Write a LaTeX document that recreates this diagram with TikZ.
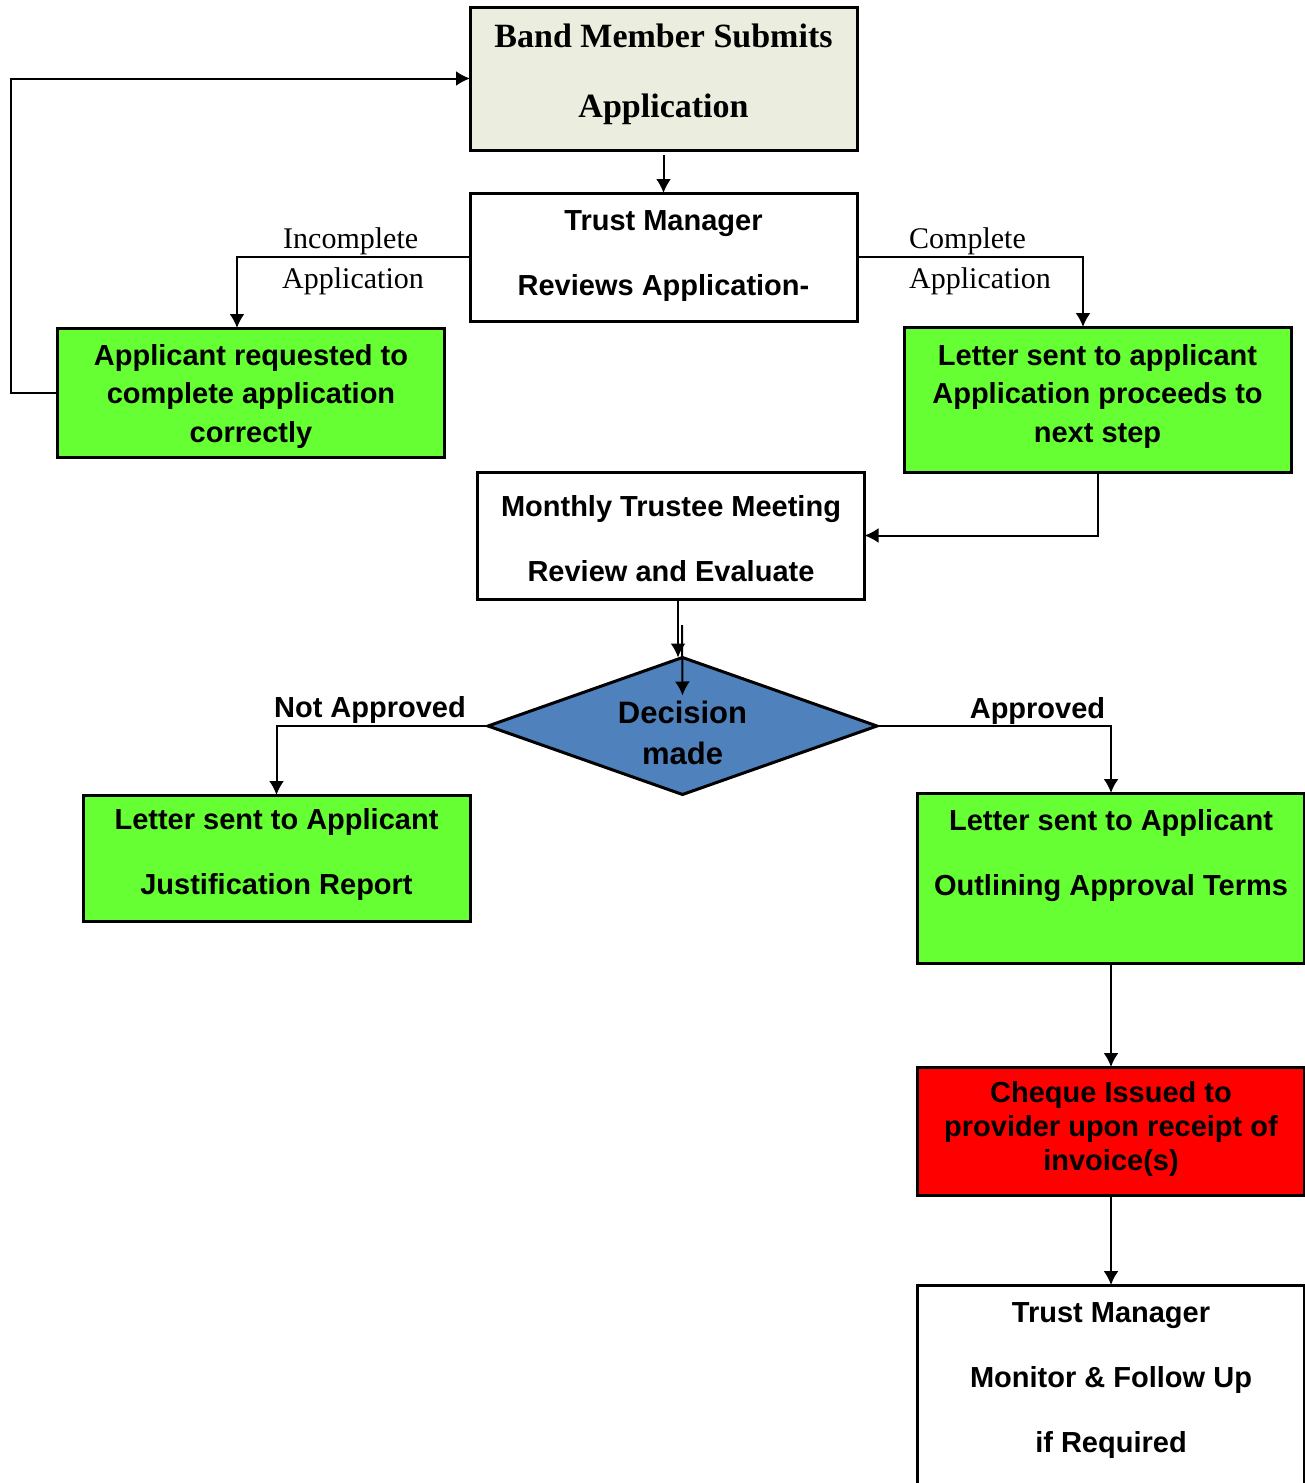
\documentclass[tikz,border=0pt]{standalone}
\usepackage{fontspec}
\setmainfont{Liberation Serif}
\setsansfont{Liberation Sans}
\usetikzlibrary{arrows.meta,shapes.geometric}
\definecolor{paleolive}{HTML}{EBEEDE}
\definecolor{okgreen}{HTML}{66FF33}
\definecolor{decblue}{HTML}{4F81BD}
\definecolor{chqred}{HTML}{FF0000}
\tikzset{>={Latex[length=14pt,width=15pt]}}
\tikzset{
  box/.style = {draw, line width=3pt, minimum width=387pt, inner sep=0pt,
    outer sep=0pt, align=center, anchor=north,
    font=\sffamily\bfseries\fontsize{29}{65}\selectfont},
  greenbox/.style = {box, fill=okgreen},
  flow/.style = {->, line width=2pt},
  lbl/.style = {inner sep=0pt, anchor=base west, font=\fontsize{30}{36}\selectfont},
  choice/.style = {inner sep=0pt, anchor=base, font=\sffamily\bfseries\fontsize{29}{36}\selectfont}
}

\begin{document}
\begin{tikzpicture}[x=1pt,y=-1pt]
  \useasboundingbox (0,0) rectangle (1305,1483);
  \node[box, fill=paleolive, text height=110pt, text depth=33pt,
    font=\rmfamily\bfseries\fontsize{34}{70}\selectfont]
    (band) at (663.5,7) {Band Member Submits\\Application};
  \node[box, text height=102pt, text depth=26pt]
    (trust) at (663.5,193) {Trust Manager\\Reviews Application-};
  \node[greenbox, text height=114pt, text depth=15pt,
    font=\sffamily\bfseries\fontsize{29}{38.5}\selectfont]
    (reqbox) at (251,328) {Applicant requested to\\complete application\\correctly};
  \node[greenbox, text height=115pt, text depth=30pt,
    font=\sffamily\bfseries\fontsize{29}{38.5}\selectfont]
    (nextstep) at (1097.5,327) {Letter sent to applicant\\Application proceeds to\\next step};
  \node[box, text height=109pt, text depth=18pt]
    (meeting) at (671,472) {Monthly Trustee Meeting\\Review and Evaluate};
  \node[diamond, draw, line width=3pt, fill=decblue, aspect=2.83,
    minimum width=389pt, minimum height=137pt, inner sep=0pt, outer sep=0pt,
    align=center, text height=80pt, text depth=4pt,
    font=\sffamily\bfseries\fontsize{31}{41}\selectfont]
    (decision) at (682.5,726) {Decision\\made};
  \node[greenbox, text height=99pt, text depth=27pt]
    (rejbox) at (276.5,795) {Letter sent to Applicant\\Justification Report};
  \node[greenbox, text height=102pt, text depth=68pt]
    (approvedbox) at (1111,793) {Letter sent to Applicant\\Outlining Approval Terms};
  \node[box, fill=chqred, text height=103pt, text depth=25pt,
    font=\sffamily\bfseries\fontsize{29}{34}\selectfont]
    (cheque) at (1111,1067) {Cheque Issued to\\provider upon receipt of\\invoice(s)};
  \node[box, text height=167pt, text depth=32pt]
    (monitor) at (1111,1285) {Trust Manager\\Monitor \& Follow Up\\if Required};

  \node[lbl] (incompleteA) at (283,248) {Incomplete};
  \node[lbl] (incompleteB) at (282,288) {Application};
  \node[lbl] (completeA) at (909,248) {Complete};
  \node[lbl] (completeB) at (909,288) {Application};
  \node[choice] (notapproved) at (370,717) {Not Approved};
  \node[choice] (approved) at (1037.5,718) {Approved};
  \coordinate (dupstart) at (682,625);

  \draw[flow, shorten <=5pt] (band.south) -- (trust.north);
  \draw[flow] (trust.west) -| ([xshift=-14pt]reqbox.north);
  \draw[flow] (trust.east) -| ([xshift=-14.5pt]nextstep.north);
  \draw[flow] (reqbox.west) -- ++(-47,0) |- (band.west);
  \draw[flow] (nextstep.south) |- (meeting.east);
  \draw[flow] ([xshift=7pt]meeting.south) -- ([xshift=-4.5pt]decision.north);
  \draw[flow] (dupstart) -- ([yshift=-38pt]decision.north);
  \draw[flow] (decision.west) -| (rejbox.north);
  \draw[flow] (decision.east) -| (approvedbox.north);
  \draw[flow] (approvedbox.south) -- (cheque.north);
  \draw[flow] (cheque.south) -- (monitor.north);
\end{tikzpicture}
\end{document}
